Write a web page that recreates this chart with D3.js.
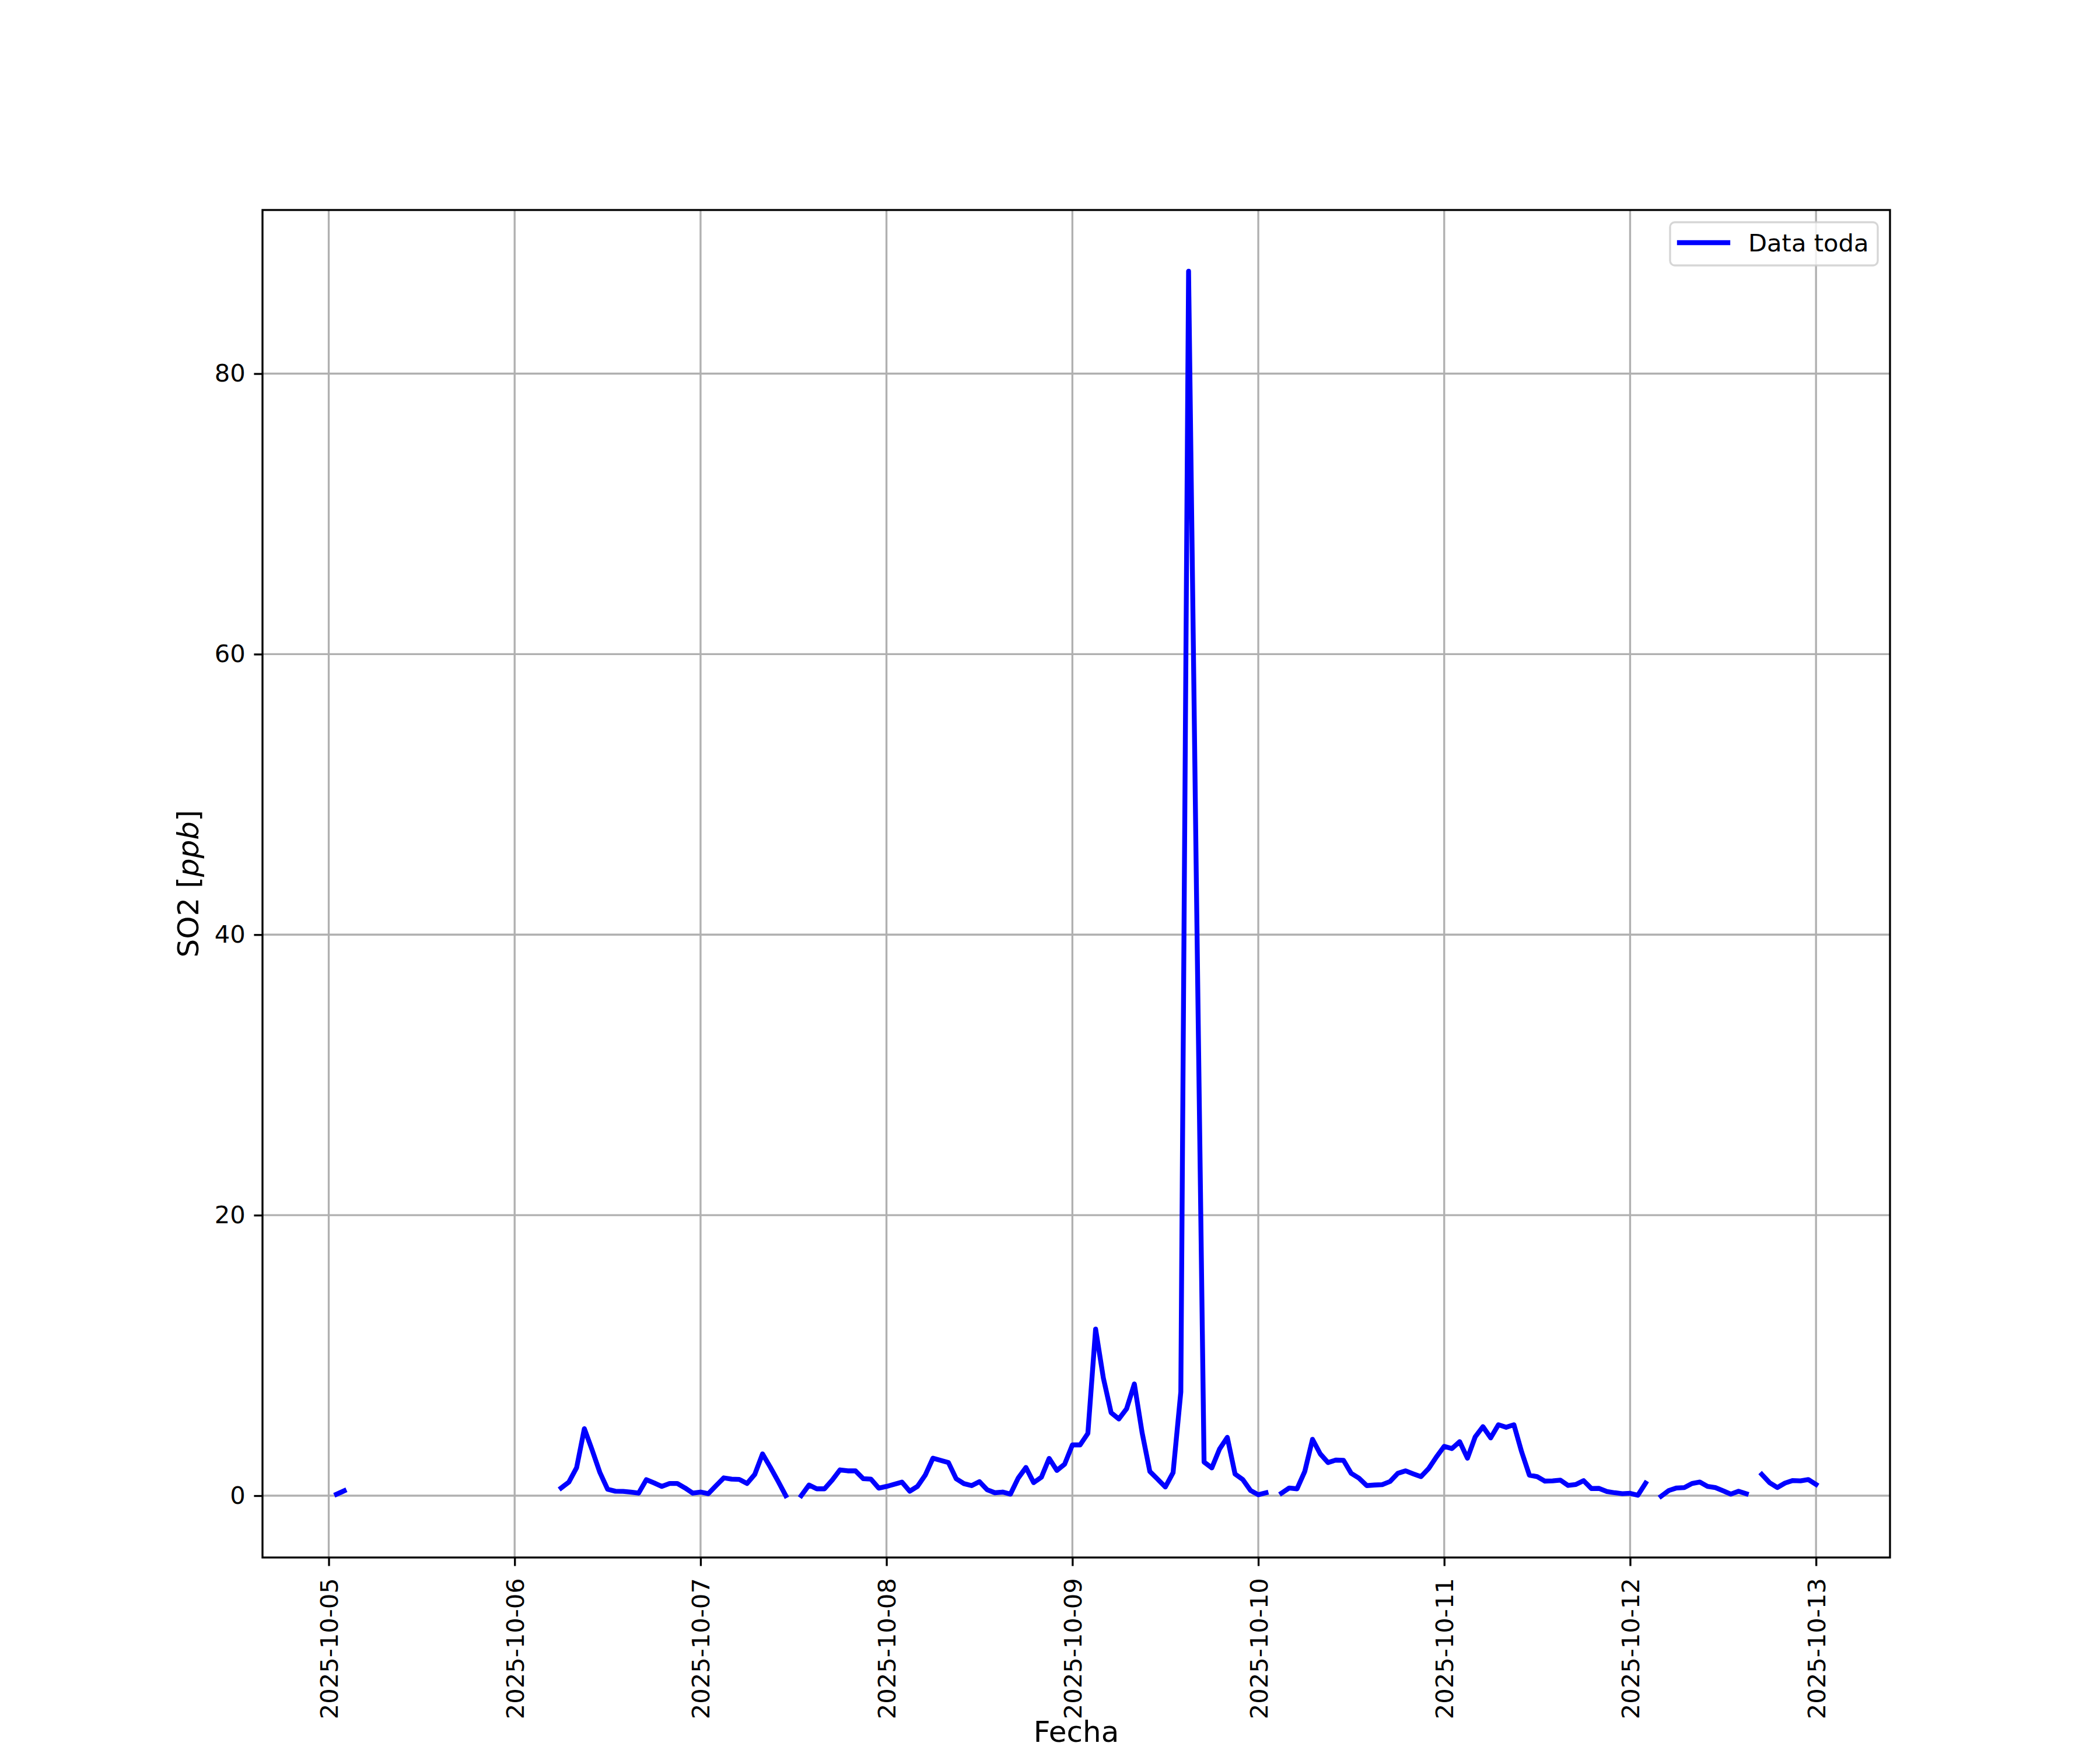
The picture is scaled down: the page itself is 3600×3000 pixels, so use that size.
<!DOCTYPE html>
<html>
<head>
<meta charset="utf-8">
<script src="https://cdn.jsdelivr.net/npm/d3@7"></script>
<style>
body { margin: 0; background: #ffffff; }
</style>
</head>
<body>
<div id="chart"></div>
<script>
// hourly SO2 readings, first sample at startTime, null = no data
var startTime = "2025-10-05T01:00:00Z";

var so2Day05 = [0.1, 0.35, null, null, null, null, null, null, null, null, null, null,
	null, null, null, null, null, null, null, null, null, null, null];
var so2Day06 = [null, null, null, null, null, null, 0.55, 0.97, 2.0, 4.78, 3.26, 1.66,
	0.46, 0.32, 0.31, 0.26, 0.18, 1.14, 0.91, 0.66, 0.87, 0.87, 0.55, 0.18];
var so2Day07 = [0.26, 0.14, 0.71, 1.27, 1.18, 1.16, 0.87, 1.52, 2.98, 2.04, 1.04, 0.0,
	null, 0.0, 0.76, 0.49, 0.49, 1.11, 1.84, 1.77, 1.77, 1.21, 1.18, 0.54];
var so2Day08 = [0.66, 0.81, 0.97, 0.32, 0.66, 1.46, 2.67, 2.52, 2.36, 1.21, 0.86, 0.72,
	1.0, 0.42, 0.21, 0.26, 0.11, 1.25, 2.01, 0.93, 1.32, 2.66, 1.8, 2.25];
var so2Day09 = [3.62, 3.62, 4.44, 11.88, 8.39, 5.92, 5.47, 6.2, 7.97, 4.5, 1.73, 1.18,
	0.62, 1.64, 7.4, 87.3, 44.0, 2.4, 1.98, 3.33, 4.16, 1.55, 1.15, 0.37];
var so2Day10 = [0.07, 0.21, null, 0.18, 0.55, 0.49, 1.73, 4.02, 2.98, 2.36, 2.54, 2.52,
	1.59, 1.25, 0.72, 0.76, 0.79, 1.01, 1.59, 1.77, 1.56, 1.36, 1.94, 2.77];
var so2Day11 = [3.52, 3.36, 3.85, 2.67, 4.19, 4.92, 4.12, 5.06, 4.88, 5.06, 3.12, 1.46,
	1.36, 1.04, 1.06, 1.11, 0.73, 0.8, 1.07, 0.51, 0.52, 0.3, 0.21, 0.14];
var so2Day12 = [0.17, 0.03, 0.9, null, -0.04, 0.37, 0.55, 0.58, 0.87, 0.97, 0.66, 0.58,
	0.35, 0.11, 0.32, 0.14, null, 1.52, 0.93, 0.58, 0.9, 1.08, 1.06, 1.15];
var so2Day13 = [0.8];

var yTicks = [0, 20, 40, 60, 80];
var seriesName = "Data toda";
var xTitle = "Fecha";

function buildSeries() {
	var values = [].concat(so2Day05, so2Day06, so2Day07, so2Day08, so2Day09,
		so2Day10, so2Day11, so2Day12, so2Day13);
	var t0 = new Date(startTime);
	return values.map(function(v, i) {
		return {date: d3.utcHour.offset(t0, i), value: v};
	});
}

function padDomain(ext) {
	var span = ext[1] - ext[0];
	return [ext[0] - 0.05 * span, ext[1] + 0.05 * span];
}

function drawChart(id) {
	var w = 3600, h = 3000;
	var margin = {left: 450, right: 360, top: 360, bottom: 330};
	var pt = 300 / 72;
	var tickLen = 3.5 * pt, tickPad = 3.5 * pt;
	var font = "'DejaVu Sans', sans-serif";

	var data = buildSeries();
	var defined = data.filter(function(d) { return d.value != null; });

	var xExt = d3.extent(data, function(d) { return d.date.getTime(); });
	var xd = padDomain(xExt);
	var x = d3.scaleUtc()
		.domain([new Date(xd[0]), new Date(xd[1])])
		.range([margin.left, w - margin.right]);
	var y = d3.scaleLinear()
		.domain(padDomain(d3.extent(defined, function(d) { return d.value; })))
		.range([h - margin.bottom, margin.top]);

	var xTicks = d3.utcDay.range(new Date("2025-10-05T00:00:00Z"), new Date("2025-10-13T00:00:01Z"));

	var svg = d3.select("#" + id).append("svg")
		.attr("width", w)
		.attr("height", h)
		.style("display", "block")
		.style("background", "#ffffff");

	var x0 = margin.left, x1 = w - margin.right;
	var y0 = margin.top, y1 = h - margin.bottom;

	// grid
	var grid = svg.append("g").attr("class", "grid")
		.attr("stroke", "#b0b0b0")
		.attr("stroke-width", 0.8 * pt);
	grid.selectAll(".vgrid").data(xTicks).enter().append("line")
		.attr("x1", function(d) { return x(d); })
		.attr("x2", function(d) { return x(d); })
		.attr("y1", y0).attr("y2", y1);
	grid.selectAll(".hgrid").data(yTicks).enter().append("line")
		.attr("y1", function(d) { return y(d); })
		.attr("y2", function(d) { return y(d); })
		.attr("x1", x0).attr("x2", x1);

	// data line
	var line = d3.line()
		.defined(function(d) { return d.value != null; })
		.x(function(d) { return x(d.date); })
		.y(function(d) { return y(d.value); });

	svg.append("path")
		.datum(data)
		.attr("fill", "none")
		.attr("stroke", "#0000ff")
		.attr("stroke-width", 2 * pt)
		.attr("stroke-linejoin", "round")
		.attr("stroke-linecap", "square")
		.attr("d", line);

	// spines
	svg.append("rect")
		.attr("x", x0).attr("y", y0)
		.attr("width", x1 - x0).attr("height", y1 - y0)
		.attr("fill", "none")
		.attr("stroke", "#000000")
		.attr("stroke-width", 0.8 * pt);

	// axes
	var yAxis = d3.axisLeft(y).tickValues(yTicks).tickSize(tickLen).tickPadding(tickPad).tickSizeOuter(0);
	var gy = svg.append("g")
		.attr("transform", "translate(" + x0 + ",0)")
		.call(yAxis);
	gy.select(".domain").remove();
	gy.selectAll("line").attr("stroke-width", 0.8 * pt);
	gy.selectAll("text").attr("font-family", font).attr("font-size", 10 * pt).attr("fill", "#000");

	var xAxis = d3.axisBottom(x).tickValues(xTicks).tickSize(tickLen).tickSizeOuter(0)
		.tickFormat(d3.utcFormat("%Y-%m-%d"));
	var gx = svg.append("g")
		.attr("transform", "translate(0," + y1 + ")")
		.call(xAxis);
	gx.select(".domain").remove();
	gx.selectAll("line").attr("stroke-width", 0.8 * pt);
	gx.selectAll("text")
		.attr("font-family", font)
		.attr("font-size", 10 * pt)
		.attr("fill", "#000")
		.attr("transform", "rotate(-90)")
		.attr("x", -(tickLen + tickPad + 6))
		.attr("y", 0)
		.attr("dy", "0.36em")
		.style("text-anchor", "end");

	// axis titles
	svg.append("text")
		.attr("x", (x0 + x1) / 2)
		.attr("y", 2986)
		.attr("font-family", font)
		.attr("font-size", 12 * pt)
		.attr("text-anchor", "middle")
		.text(xTitle);

	var yTitle = svg.append("text")
		.attr("transform", "translate(340," + ((y0 + y1) / 2) + ") rotate(-90)")
		.attr("font-family", font)
		.attr("font-size", 12 * pt)
		.attr("text-anchor", "middle");
	yTitle.append("tspan").text("SO2 [");
	yTitle.append("tspan").attr("font-style", "italic").text("ppb");
	yTitle.append("tspan").text("]");

	// legend
	var lg = svg.append("g").attr("class", "legend");
	lg.append("rect")
		.attr("x", 2863).attr("y", 381)
		.attr("width", 356).attr("height", 74)
		.attr("rx", 8).attr("ry", 8)
		.attr("fill", "#ffffff").attr("fill-opacity", 0.8)
		.attr("stroke", "#cccccc").attr("stroke-opacity", 0.8)
		.attr("stroke-width", 0.8 * pt);
	lg.append("line")
		.attr("x1", 2879).attr("x2", 2962)
		.attr("y1", 416).attr("y2", 416)
		.attr("stroke", "#0000ff")
		.attr("stroke-width", 2 * pt)
		.attr("stroke-linecap", "square");
	lg.append("text")
		.attr("x", 2997).attr("y", 431)
		.attr("font-family", font)
		.attr("font-size", 10 * pt)
		.text(seriesName);

	return svg.node();
}

drawChart("chart");
</script>
</body>
</html>
